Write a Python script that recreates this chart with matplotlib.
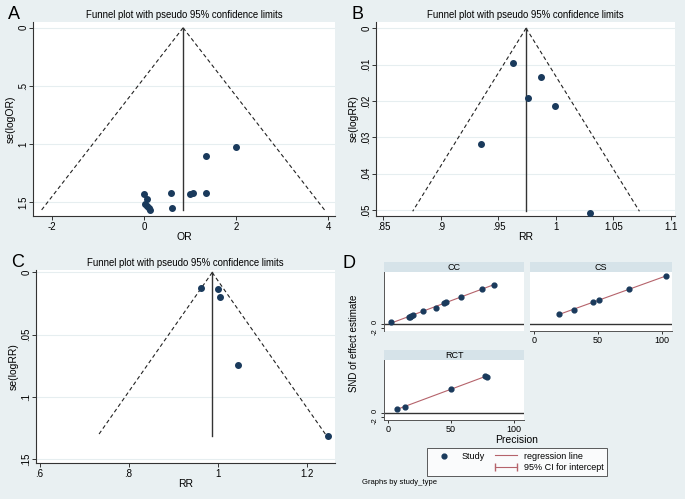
import numpy as np
import matplotlib
matplotlib.use('Agg')
import matplotlib.pyplot as plt
from matplotlib.lines import Line2D

plt.rcParams['font.family'] = ['Liberation Sans', 'DejaVu Sans']

# panel A: OR funnel
a_x = [0.0, 0.075, 0.03, 0.06, 0.1, 0.13, 0.58, 0.6, 1.0, 1.06, 1.35, 1.35, 2.01]
a_se = [1.434, 1.474, 1.52, 1.537, 1.555, 1.566, 1.423, 1.555, 1.43, 1.423, 1.423, 1.10, 1.03]
a_center, a_semax = 0.85, 1.57

# panel B: RR funnel
b_x = [0.9625, 0.987, 0.976, 0.9995, 0.9348, 1.030]
b_se = [0.00965, 0.01336, 0.0192, 0.0213, 0.0318, 0.0507]
b_center, b_semax = 0.974, 0.0503

# panel C: RR funnel
c_x = [0.9624, 1.0016, 1.0045, 1.045, 1.249]
c_se = [0.0126, 0.0129, 0.020, 0.0746, 0.1313]
c_center, c_semax = 0.988, 0.1313

# panel D: Egger plots by study type
cc_prec = [2.9, 16.6, 17.6, 18.4, 19.7, 27.9, 37.9, 44.7, 46.1, 58.2, 75.0, 84.2]
cc_snd = [1.0, 3.67, 3.83, 4.17, 4.83, 6.67, 8.17, 10.83, 11.17, 14.0, 18.0, 20.0]
cs_prec = [19.4, 31.3, 46.6, 51.3, 74.4, 103.1]
cs_snd = [5.0, 7.17, 11.5, 12.33, 17.83, 24.33]
rct_prec = [7.6, 13.7, 50.3, 77.1, 78.9]
rct_snd = [2.0, 3.17, 12.0, 18.67, 18.17]

bg = '#e9f0f2'
strip = '#d6e3e9'
grid = '#e6eef0'
navy = '#1a3a5c'
red = '#b5636b'

W, H = 685, 499
fig = plt.figure(figsize=(6.85, 4.99), dpi=100, facecolor=bg)


def box(l, t, r, b):
    return [l / W, 1 - b / H, (r - l) / W, (b - t) / H]


def funnel(rect, xs, ses, center, semax, xlim, ylim, xticks, xlabs, yticks, ylabs, xlabel, ylabel, letter):
    ax = fig.add_axes(box(*rect))
    se_line = np.array([0, semax])
    ax.plot(center - 1.96 * se_line, se_line, color='#222222', lw=0.8, ls=(0, (3.5, 2.5)))
    ax.plot(center + 1.96 * se_line, se_line, color='#222222', lw=0.8, ls=(0, (3.5, 2.5)))
    ax.plot([center, center], [0, semax], color='#333333', lw=1.0)
    ax.scatter(xs, ses, s=16, color=navy, zorder=3, clip_on=False)
    ax.set_xlim(*xlim)
    ax.set_ylim(*ylim)
    ax.set_xticks(xticks)
    ax.set_xticklabels(xlabs, fontsize=7)
    ax.set_yticks(yticks)
    ax.set_yticklabels(ylabs, fontsize=7, rotation=90, va='center')
    for t in yticks:
        ax.axhline(t, color=grid, lw=0.8, zorder=0)
    ax.set_xlabel(xlabel, fontsize=7.5, labelpad=0)
    ax.set_ylabel(ylabel, fontsize=7.5, labelpad=2)
    ax.spines['top'].set_visible(False)
    ax.spines['right'].set_visible(False)
    for s in ['left', 'bottom']:
        ax.spines[s].set_color('#333333')
        ax.spines[s].set_linewidth(0.8)
    ax.tick_params(axis='x', length=3, width=0.7, pad=1, color='#333333')
    ax.tick_params(axis='y', length=3, width=0.7, pad=0.5, color='#333333')
    pos = ax.get_position()
    fig.text(pos.x0 + 0.5 * pos.width, pos.y1 + 0.004, 'Funnel plot with pseudo 95% confidence limits',
             ha='center', va='bottom', fontsize=6.9)
    fig.text(pos.x0 - 25 / W, pos.y1 + 16 / H, letter, ha='left', va='top', fontsize=13)
    return ax


funnel((33, 22, 335, 216), a_x, a_se, a_center, a_semax, (-2.41, 4.15), (1.62, -0.05),
       [-2, 0, 2, 4], ['-2', '0', '2', '4'], [0, 0.5, 1, 1.5], ['0', '.5', '1', '1.5'],
       'OR', 'se(logOR)', 'A')
funnel((376, 22, 675, 216), b_x, b_se, b_center, b_semax, (0.8435, 1.1035), (0.0516, -0.0017),
       [0.85, 0.9, 0.95, 1, 1.05, 1.1], ['.85', '.9', '.95', '1', '1.05', '1.1'],
       [0, 0.01, 0.02, 0.03, 0.04, 0.05], ['0', '.01', '.02', '.03', '.04', '.05'],
       'RR', 'se(logRR)', 'B')
funnel((36, 270, 335, 463), c_x, c_se, c_center, c_semax, (0.592, 1.264), (0.153, -0.002),
       [0.6, 0.8, 1, 1.2], ['.6', '.8', '1', '1.2'], [0, 0.05, 0.1, 0.15], ['0', '.05', '.1', '.15'],
       'RR', 'se(logRR)', 'C')


def egger(rect, prec, snd, title, show_x, show_y):
    ax = fig.add_axes(box(*rect))
    p = np.array(prec)
    k, b0 = np.polyfit(p, snd, 1)
    xx = np.array([p.min(), p.max()])
    ax.axhline(0, color='#333333', lw=1.0, zorder=1)
    ax.plot(xx, k * xx + b0, color=red, lw=0.8, zorder=2)
    ax.scatter(prec, snd, s=12, color=navy, zorder=3)
    ax.set_xlim(-3, 108)
    ax.set_ylim(-3.5, 26.5)
    ax.spines['top'].set_visible(False)
    ax.spines['right'].set_visible(False)
    ax.tick_params(length=2.5, width=0.7, pad=1, color='#333333', labelsize=6.5)
    if show_x:
        ax.set_xticks([0, 50, 100])
        ax.set_xticklabels(['0', '50', '100'])
    else:
        ax.spines['bottom'].set_visible(False)
        ax.set_xticks([])
    if show_y:
        ax.set_yticks([0, -2])
        ax.set_yticklabels(['0', '-2'], rotation=90, fontsize=5.5)
        lab0, lab2 = ax.get_yticklabels()
        lab0.set_va('bottom')
        lab2.set_va('top')
    else:
        ax.spines['left'].set_visible(False)
        ax.set_yticks([])
    for s in ['left', 'bottom']:
        ax.spines[s].set_color('#555555')
        ax.spines[s].set_linewidth(0.7)
    pos = ax.get_position()
    hdr = fig.add_axes([pos.x0, pos.y1, pos.width, 10 / H])
    hdr.set_facecolor(strip)
    hdr.set_xticks([])
    hdr.set_yticks([])
    for s in hdr.spines.values():
        s.set_visible(False)
    hdr.text(0.5, 0.5, title, ha='center', va='center', fontsize=6.5, transform=hdr.transAxes)
    return ax


ax_cc = egger((384, 272, 524, 331), cc_prec, cc_snd, 'CC', False, True)
ax_cs = egger((530, 272, 672, 331), cs_prec, cs_snd, 'CS', True, False)
ax_rct = egger((384, 360, 524, 420), rct_prec, rct_snd, 'RCT', True, True)

fig.text(343 / W, 1 - 255 / H, 'D', ha='left', va='top', fontsize=13)
fig.text(354 / W, 1 - 343 / H, 'SND of effect estimate', rotation=90, ha='center', va='center', fontsize=7)
fig.text(517 / W, 1 - 440 / H, 'Precision', ha='center', va='center', fontsize=7.5)
fig.text(362 / W, 1 - 483 / H, 'Graphs by study_type', ha='left', va='center', fontsize=5.5)

study_h = ax_rct.scatter([], [], s=12, color=navy)
handles = [
    study_h,
    Line2D([], [], ls='none'),
    Line2D([], [], color=red, lw=0.8),
    Line2D([], [], color=red, lw=0.8, marker='|', markersize=6),
]
labels = ['Study', '', 'regression line', '95% CI for intercept']
leg = fig.legend(handles, labels, ncol=2, loc='center', bbox_to_anchor=(517 / W, 1 - 462 / H),
                 fontsize=6.5, frameon=True, fancybox=False, edgecolor='#333333', borderpad=0.35,
                 handlelength=3.0, numpoints=2, scatterpoints=1, columnspacing=0.8,
                 labelspacing=0.3, handletextpad=0.5)
leg.get_frame().set_linewidth(0.7)

fig.savefig('out.png', dpi=100, facecolor=bg)
